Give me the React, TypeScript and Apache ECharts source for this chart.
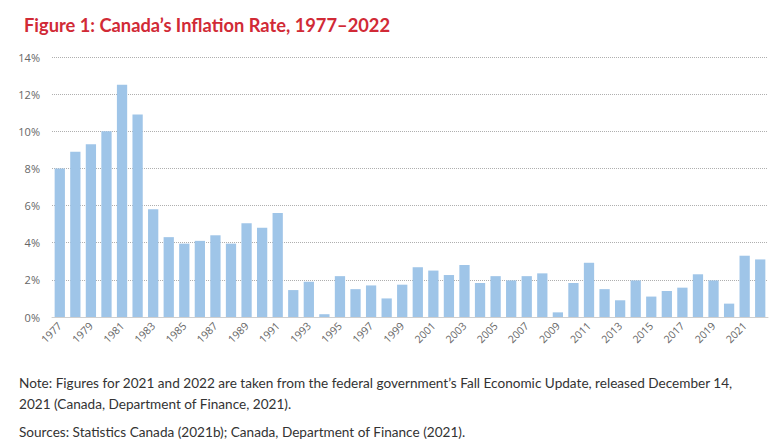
import React, { useEffect, useRef } from "react";
import * as echarts from "echarts";

const years: string[] = [
  "1977","1978","1979","1980","1981","1982","1983","1984","1985","1986",
  "1987","1988","1989","1990","1991","1992","1993","1994","1995","1996",
  "1997","1998","1999","2000","2001","2002","2003","2004","2005","2006",
  "2007","2008","2009","2010","2011","2012","2013","2014","2015","2016",
  "2017","2018","2019","2020","2021","2022",
];
const inflation: number[] = [
  8.0, 8.9, 9.3, 10.0, 12.5, 10.9, 5.8, 4.3, 3.95, 4.1,
  4.4, 3.95, 5.05, 4.8, 5.6, 1.45, 1.9, 0.15, 2.2, 1.5,
  1.7, 1.0, 1.74, 2.68, 2.5, 2.26, 2.8, 1.83, 2.2, 1.97,
  2.2, 2.35, 0.25, 1.83, 2.92, 1.5, 0.9, 1.97, 1.1, 1.4,
  1.58, 2.3, 1.97, 0.72, 3.3, 3.1,
];
const yTicks = { min: 0, max: 14, interval: 2 };

const titleText = "Figure 1: Canada\u2019s Inflation Rate, 1977\u20132022";
const noteLine1 = "Note: Figures for 2021 and 2022 are taken from the federal government\u2019s Fall Economic Update, released December 14,";
const noteLine2 = "2021 (Canada, Department of Finance, 2021).";
const sourcesText = "Sources: Statistics Canada (2021b); Canada, Department of Finance (2021).";

export default function App() {
  const ref = useRef<HTMLDivElement>(null);
  useEffect(() => {
    if (!ref.current) return;
    const chart = echarts.init(ref.current, undefined, { renderer: "svg" });
    chart.setOption({
      animation: false,
      backgroundColor: "#ffffff",
      title: {
        text: titleText,
        left: 19,
        top: 11,
        textStyle: {
          fontFamily: "Lato",
          fontWeight: "bold",
          fontSize: 18.3,
          color: "#d12a36",
        },
      },
      grid: { left: 52, right: 14, top: 57, bottom: 129, containLabel: false },
      xAxis: {
        type: "category",
        data: years,
        axisLine: { show: true, lineStyle: { color: "#cfcfcf", width: 1 } },
        axisTick: { show: false },
        axisLabel: {
          interval: 1,
          rotate: 45,
          margin: 7,
          fontFamily: "Open Sans",
          fontSize: 10.5,
          color: "#666666",
        },
      },
      yAxis: {
        type: "value",
        min: yTicks.min,
        max: yTicks.max,
        interval: yTicks.interval,
        axisLine: { show: false },
        axisTick: { show: false },
        axisLabel: {
          formatter: "{value}%",
          margin: 12,
          fontFamily: "Open Sans",
          fontSize: 11,
          color: "#666666",
        },
        splitLine: {
          show: true,
          lineStyle: { color: "#9a9a9a", type: [1, 1], width: 0.8 },
        },
      },
      series: [
        {
          type: "bar",
          data: inflation,
          barCategoryGap: "34%",
          itemStyle: { color: "#9fc5e8" },
        },
      ],
      graphic: [
        {
          type: "text",
          left: 19,
          top: 376,
          style: { text: noteLine1, font: "13.6px Lato", fill: "#333333" },
        },
        {
          type: "text",
          left: 19,
          top: 397,
          style: { text: noteLine2, font: "13.6px Lato", fill: "#333333" },
        },
        {
          type: "text",
          left: 19,
          top: 425,
          style: { text: sourcesText, font: "13.6px Lato", fill: "#333333" },
        },
      ],
    });
    return () => chart.dispose();
  }, []);
  return <div ref={ref} style={{ width: 782, height: 446, position: "fixed", left: 0, top: 0 }} />;
}
